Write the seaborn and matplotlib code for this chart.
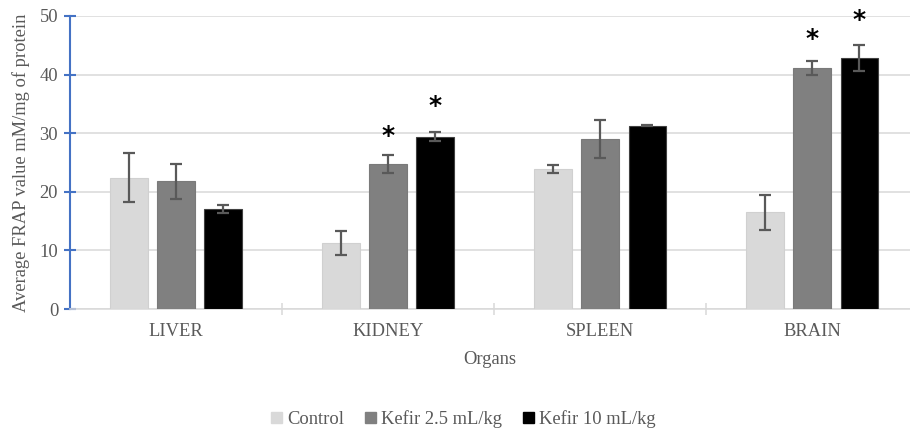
import matplotlib
matplotlib.use("Agg")
import matplotlib.pyplot as plt
import seaborn as sns
import pandas as pd
import numpy as np

organs = ["LIVER", "KIDNEY", "SPLEEN", "BRAIN"]
groups = ["Control", "Kefir 2.5 mL/kg", "Kefir 10 mL/kg"]
control = [22.4, 11.2, 23.9, 16.5]
kefir_25 = [21.8, 24.7, 29.0, 41.1]
kefir_10 = [17.0, 29.4, 31.3, 42.8]
control_err = [4.2, 2.05, 0.75, 3.0]
kefir_25_err = [3.0, 1.55, 3.2, 1.15]
kefir_10_err = [0.7, 0.8, 0.1, 2.2]
# significance stars: (organ index, group index, y position)
star_organ = [1, 1, 3, 3]
star_group = [1, 2, 1, 2]
star_y = [29.6, 34.7, 46.0, 49.4]

colors = ["#D9D9D9", "#808080", "#000000"]
edge = ["#D0D0D0", "#7A7A7A", "#404040"]
text_c = "#595959"
fs = 13.3

rows = []
for g, vals in zip(groups, [control, kefir_25, kefir_10]):
    for o, v in zip(organs, vals):
        rows.append({"Organ": o, "Group": g, "Value": v})
df = pd.DataFrame(rows)

sns.set_theme(style="white")
plt.rcParams["font.family"] = ["Liberation Serif", "DejaVu Serif"]

fig = plt.figure(figsize=(9.1, 4.28), dpi=100)
ax = fig.add_axes([70/910, 1-309/428, 840/910, 293/428])

sns.barplot(data=df, x="Organ", y="Value", hue="Group", order=organs,
            hue_order=groups, palette=colors, width=0.666, gap=0.21,
            errorbar=None, ax=ax, legend=True, zorder=3)

bar_containers = list(ax.containers)
errs = [control_err, kefir_25_err, kefir_10_err]
for i, cont in enumerate(bar_containers):
    xs = []
    ys = []
    for bar in cont.patches:
        bar.set_edgecolor(edge[i])
        bar.set_linewidth(0.8)
        xs.append(bar.get_x() + bar.get_width()/2)
        ys.append(bar.get_height())
    ax.errorbar(xs, ys, yerr=errs[i], fmt="none", ecolor="#595959",
                elinewidth=1.6, capsize=4.2, capthick=1.6, zorder=4)

for oi, gi, sy in zip(star_organ, star_group, star_y):
    bar = bar_containers[gi].patches[oi]
    ax.text(bar.get_x() + bar.get_width()/2, sy, "*", ha="center", va="center",
            fontsize=18, fontweight="bold", color="black", family="DejaVu Sans",
            clip_on=False)

ax.set_ylim(0, 50)
ax.set_xlim(-0.5, 3.462)
ax.set_yticks([0, 10, 20, 30, 40, 50])
ax.yaxis.grid(True, color="#D9D9D9", linewidth=1.1, zorder=0)
ax.set_axisbelow(True)
for s in ["top", "right"]:
    ax.spines[s].set_visible(False)
ax.spines["left"].set_color("#4472C4")
ax.spines["left"].set_linewidth(1.5)
ax.spines["bottom"].set_color("#D9D9D9")
ax.spines["bottom"].set_linewidth(1.1)

ax.tick_params(axis="y", direction="inout", length=9, width=1.5, color="#4472C4",
               labelsize=fs, labelcolor=text_c, pad=4, left=True)
ax.set_xticks([0, 1, 2, 3])
ax.set_xticklabels(organs)
ax.set_xticks([0.5, 1.5, 2.5], minor=True)
ax.tick_params(axis="x", which="major", length=0, labelsize=fs, labelcolor=text_c, pad=10)
ax.tick_params(axis="x", which="minor", direction="inout", length=9, width=1.1,
               color="#D9D9D9", bottom=True)

ax.set_xlabel("Organs", fontsize=fs, color=text_c, labelpad=8)
ax.set_ylabel("Average FRAP value mM/mg of protein", fontsize=fs, color=text_c, labelpad=7)

ax.get_legend().remove()
handles = [plt.Rectangle((0, 0), 1, 1, facecolor=c, edgecolor=c) for c in colors]
fig.legend(handles, groups, loc="center", bbox_to_anchor=(0.509, 1-419/428), ncol=3,
           frameon=False, fontsize=fs, labelcolor=text_c, handlelength=0.6,
           handleheight=0.6, handletextpad=0.3, columnspacing=1.1)

fig.savefig("out.png", dpi=100)
